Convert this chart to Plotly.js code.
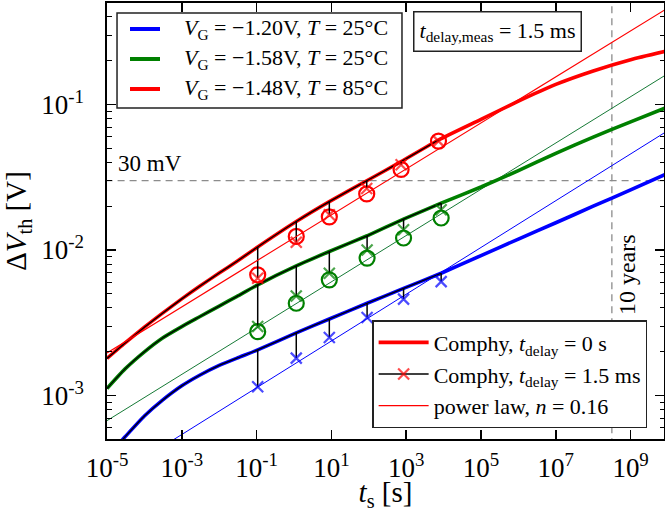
<!DOCTYPE html>
<html>
<head>
<meta charset="utf-8">
<script src="https://cdn.plot.ly/plotly-3.0.1.min.js"></script>
<style>
  html, body { margin: 0; padding: 0; background: #fff; }
  #chart { width: 665px; height: 512px; }
</style>
</head>
<body>
<div id="chart"></div>
<script>
// Stress time [s] and threshold-voltage shift [V]

// Comphy simulation, no measurement delay (curve samples)
const tCurveBlue  = [1e-5, 3e-5, 1e-4, 3e-4, 1e-3, 3e-3, 1e-2, 3e-2, 0.107, 1.15, 8.8, 90, 850, 8600, 1e5, 1e6, 1e7, 1e8, 1e9, 1e10];
const vCurveBlue  = [3.8e-4, 5.19e-4, 7.24e-4, 9.27e-4, 1.167e-3, 1.38e-3, 1.612e-3, 1.81e-3, 2.06e-3, 2.70e-3, 3.36e-3, 4.31e-3, 5.45e-3, 6.93e-3, 9.16e-3, 1.19e-2, 1.54e-2, 2.0e-2, 2.59e-2, 3.37e-2];
const tCurveGreen = [1e-5, 3e-5, 1e-4, 3e-4, 1e-3, 3e-3, 1e-2, 3e-2, 0.107, 1.15, 8.8, 90, 850, 8600, 1e5, 1e6, 1e7, 1e8, 1e9, 1e10];
const vCurveGreen = [1.12e-3, 1.52e-3, 2.00e-3, 2.48e-3, 2.98e-3, 3.48e-3, 4.12e-3, 4.81e-3, 5.77e-3, 7.78e-3, 9.77e-3, 1.253e-2, 1.63e-2, 2.10e-2, 2.71e-2, 3.51e-2, 4.62e-2, 5.97e-2, 7.60e-2, 9.62e-2];
const tCurveRed   = [1e-5, 3e-5, 1e-4, 3e-4, 1e-3, 3e-3, 1e-2, 3e-2, 0.107, 1.15, 8.8, 88, 730, 7300, 1e5, 1e6, 1e7, 1e8, 1e9, 1e10];
const vCurveRed   = [1.80e-3, 2.29e-3, 2.95e-3, 3.67e-3, 4.62e-3, 5.64e-3, 6.95e-3, 8.38e-3, 1.05e-2, 1.57e-2, 2.15e-2, 2.99e-2, 4.05e-2, 5.7e-2, 7.9e-2, 0.1054, 0.1374, 0.170, 0.203, 0.234];

// Measurement times
const tMeas    = [0.107, 1.15, 8.8, 90, 850, 8600];
const tMeasRed = [0.107, 1.15, 8.8, 88, 730, 7300];

// Comphy simulation with 1.5 ms measurement delay
const delayBlue  = [1.15e-3, 1.81e-3, 2.51e-3, 3.44e-3, 4.6e-3, 6.07e-3];
const delayGreen = [2.98e-3, 4.84e-3, 6.93e-3, 1.0e-2, 1.38e-2, 1.89e-2];
const delayRed   = [6.41e-3, 1.13e-2, 1.75e-2, 2.65e-2, 3.85e-2, 5.6e-2];

// Measured data
const measGreen = [2.75e-3, 4.31e-3, 6.24e-3, 8.8e-3, 1.21e-2, 1.66e-2];
const measRed   = [6.76e-3, 1.24e-2, 1.69e-2, 2.43e-2, 3.58e-2, 5.6e-2];

// Power-law fits (n = 0.16), end points
const tPowerLaw = [1e-5, 1e10];
const plBlue  = [2.58e-4, 0.0662];
const plGreen = [6.73e-4, 0.163];
const plRed   = [1.965e-3, 0.461];

// Reference levels
const limitV = 0.03;          // 30 mV criterion
const tenYears = 3.156e8;     // 10 years in seconds

// Axis ticks
const xTickVals = [1e-5, 1e-3, 1e-1, 1e1, 1e3, 1e5, 1e7, 1e9];
const xTickText = ['10<sup>-5</sup>', '10<sup>-3</sup>', '10<sup>-1</sup>', '10<sup>1</sup>', '10<sup>3</sup>', '10<sup>5</sup>', '10<sup>7</sup>', '10<sup>9</sup>'];
const yTickVals = [1e-3, 1e-2, 1e-1];
const yTickText = ['10<sup>-3</sup>', '10<sup>-2</sup>', '10<sup>-1</sup>'];

// Series labels
const seriesNames = [
  '<i>V</i><sub>G</sub> = \u22121.20V, <i>T</i> = 25\u00b0C',
  '<i>V</i><sub>G</sub> = \u22121.58V, <i>T</i> = 25\u00b0C',
  '<i>V</i><sub>G</sub> = \u22121.48V, <i>T</i> = 85\u00b0C'
];

const FONT = 'Liberation Serif, Times New Roman, serif';
const BLUE = '#0000ff', GREEN = '#008000', RED = '#ff0000', GREEN_THIN = '#167a36';
const seriesColors = [BLUE, GREEN, RED];

// curve value at a measurement time (the curves are sampled there)
function curveAt(tc, vc, t) { return vc[tc.indexOf(t)]; }

// part of a simulated curve inside the measured time window
function overlay(tc, vc, tLast) {
  const x = [], y = [];
  tc.forEach((t, i) => { if (t <= tLast) { x.push(t); y.push(vc[i]); } });
  return { x, y };
}

// vertical connectors from the undelayed curve down to the delayed value;
// the x marker sits on the lower end only (the separator slot keeps the
// mean marker size, used for the legend sample, at the drawn size)
function connectors(tc, vc, tm, vd) {
  const x = [], y = [], s = [];
  tm.forEach((t, i) => {
    x.push(t, t, null);
    y.push(curveAt(tc, vc, t), vd[i], null);
    s.push(0, 11, 22);
  });
  return { x, y, s };
}

const traces = [];
const smooth = { shape: 'spline', smoothing: 0.5 };

// reference lines
traces.push({ x: [1e-6, 1e11], y: [limitV, limitV], mode: 'lines', showlegend: false, hoverinfo: 'skip',
  line: { color: '#8c8c8c', width: 1.3, dash: '7px,5px' } });
traces.push({ x: [tenYears, tenYears], y: [1e-4, 1], mode: 'lines', showlegend: false, hoverinfo: 'skip',
  line: { color: '#8c8c8c', width: 1.3, dash: '7px,5px' } });

// power laws
traces.push({ x: tPowerLaw, y: plBlue, mode: 'lines', showlegend: false, line: { color: BLUE, width: 1 } });
traces.push({ x: tPowerLaw, y: plGreen, mode: 'lines', showlegend: false, line: { color: GREEN_THIN, width: 1 } });

// thick Comphy curves
[[tCurveBlue, vCurveBlue], [tCurveGreen, vCurveGreen], [tCurveRed, vCurveRed]].forEach(([tc, vc], k) => {
  traces.push({ x: tc, y: vc, mode: 'lines', name: seriesNames[k], showlegend: false,
    line: Object.assign({ color: seriesColors[k], width: 3.6 }, smooth) });
});

// legend sample for the undelayed simulation
traces.push({ x: [null], y: [null], mode: 'lines', name: 'Comphy, <i>t</i><sub>delay</sub> = 0 s', legend: 'legend2', line: { color: RED, width: 3.6 } });

// black overlays inside the measured window
[[tCurveBlue, vCurveBlue, tMeas], [tCurveGreen, vCurveGreen, tMeas], [tCurveRed, vCurveRed, tMeasRed]].forEach(([tc, vc, tm]) => {
  const o = overlay(tc, vc, tm[tm.length - 1]);
  traces.push({ x: o.x, y: o.y, mode: 'lines', showlegend: false, line: Object.assign({ color: '#000', width: 1.3 }, smooth) });
});

// measured circles
traces.push({ x: tMeas, y: measGreen, mode: 'markers', showlegend: false,
  marker: { symbol: 'circle-open', size: 15, color: GREEN, line: { width: 2.2, color: GREEN } } });
traces.push({ x: tMeasRed, y: measRed, mode: 'markers', showlegend: false,
  marker: { symbol: 'circle-open', size: 15, color: RED, line: { width: 2.2, color: RED } } });

// delayed simulation: connectors + x markers
[[tCurveBlue, vCurveBlue, tMeas, delayBlue, BLUE, false],
 [tCurveGreen, vCurveGreen, tMeas, delayGreen, GREEN, false],
 [tCurveRed, vCurveRed, tMeasRed, delayRed, RED, true]].forEach(([tc, vc, tm, vd, col, inLegend]) => {
  const c = connectors(tc, vc, tm, vd);
  traces.push({ x: c.x, y: c.y, mode: 'lines+markers', connectgaps: false,
    name: 'Comphy, <i>t</i><sub>delay</sub> = 1.5 ms', showlegend: inLegend, legend: 'legend2',
    line: { color: '#000', width: 1.5 },
    marker: { symbol: 'x-thin', size: c.s, color: col, line: { width: 2.2, color: col } } });
});

// red power law on top
traces.push({ x: tPowerLaw, y: plRed, mode: 'lines', name: 'power law, <i>n</i> = 0.16', legend: 'legend2', line: { color: RED, width: 1.1 } });

const axisCommon = {
  type: 'log', showgrid: false, zeroline: false,
  showline: true, linecolor: '#000', linewidth: 1.6, mirror: 'ticks',
  ticks: 'inside', ticklen: 9, tickwidth: 1.6, tickcolor: '#000',
  tickmode: 'array', tickfont: { family: FONT, size: 27, color: '#000' }
};

// series key (upper left): frame, colour samples and labels in paper units
const keyRows = [0.9404, 0.8716, 0.8028];
const shapes = [
  { type: 'rect', xref: 'paper', yref: 'paper', x0: 0.018, x1: 0.5296, y0: 0.7592, y1: 0.9771,
    line: { color: '#222', width: 1.5 }, fillcolor: '#fff', layer: 'above' }
];
keyRows.forEach((yy, k) => {
  shapes.push({ type: 'line', xref: 'paper', yref: 'paper', x0: 0.0413, x1: 0.0952, y0: yy, y1: yy,
    line: { color: seriesColors[k], width: 4 }, layer: 'above' });
});

const annotations = keyRows.map((yy, k) => ({
  xref: 'paper', yref: 'paper', x: 0.1347, y: yy, xanchor: 'left', yanchor: 'middle', showarrow: false,
  text: seriesNames[k], font: { family: FONT, size: 22, color: '#000' }
}));
annotations.push(
  { xref: 'paper', yref: 'paper', x: 0.701, y: 0.9346, xanchor: 'center', yanchor: 'middle', showarrow: false,
    text: '<i>t</i><sub>delay,meas</sub> = 1.5 ms', font: { family: FONT, size: 22, color: '#000' },
    bgcolor: '#fff', bordercolor: '#222', borderwidth: 1.5, borderpad: 5 },
  { xref: 'paper', yref: 'paper', x: 0.0772, y: 0.633, xanchor: 'center', yanchor: 'middle', showarrow: false,
    text: '30 mV', font: { family: FONT, size: 23, color: '#000' } },
  { xref: 'paper', yref: 'paper', x: 0.9336, y: 0.376, xanchor: 'center', yanchor: 'middle', showarrow: false,
    text: '10 years', textangle: -90, font: { family: FONT, size: 24, color: '#000' } }
);

const layout = {
  width: 665, height: 512,
  margin: { l: 107, r: 1, t: 3, b: 73 },
  paper_bgcolor: '#fff', plot_bgcolor: '#fff',
  font: { family: FONT, color: '#000' },
  xaxis: Object.assign({}, axisCommon, {
    range: [-5, 9.893], tickvals: xTickVals, ticktext: xTickText, ticklabelstandoff: 4,
    title: { text: '<i>t</i><sub>s</sub> [s]', font: { family: FONT, size: 29 }, standoff: 12 }
  }),
  yaxis: Object.assign({}, axisCommon, {
    range: [-3.298, -0.303], tickvals: yTickVals, ticktext: yTickText, ticklabelstandoff: 16,
    minor: { ticks: 'inside', ticklen: 4.5, tickwidth: 1, tickcolor: '#000', dtick: 'D1' },
    title: { text: '\u0394<i>V</i><sub>th</sub> [V]', font: { family: FONT, size: 29 }, standoff: 6 }
  }),
  legend2: {
    x: 0.476, y: 0.025, xanchor: 'left', yanchor: 'bottom',
    bgcolor: '#fff', bordercolor: '#222', borderwidth: 1.5,
    font: { family: FONT, size: 22, color: '#000' }, itemwidth: 50, tracegroupgap: 0
  },
  shapes: shapes,
  annotations: annotations,
  showlegend: true
};

Plotly.newPlot('chart', traces, layout, { staticPlot: true, displayModeBar: false });
</script>
</body>
</html>
